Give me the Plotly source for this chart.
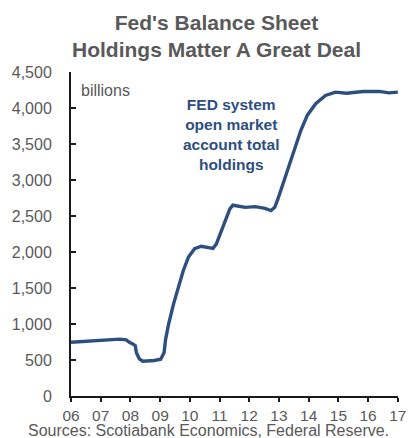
import plotly.graph_objects as go

# Fed System Open Market Account total holdings, USD billions
dates = ["2006-01-01", "2006-04-15", "2006-08-01", "2006-12-05", "2007-03-15",
         "2007-06-05", "2007-08-25", "2007-11-10", "2007-12-20", "2008-02-05",
         "2008-03-01", "2008-03-15", "2008-04-20", "2008-06-01", "2008-08-05",
         "2008-10-20", "2009-01-08", "2009-02-18", "2009-03-08", "2009-04-15",
         "2009-06-15", "2009-08-15", "2009-10-12", "2009-12-15", "2010-03-01",
         "2010-05-22", "2010-08-08", "2010-10-12", "2010-11-22", "2011-01-18",
         "2011-03-14", "2011-05-08", "2011-06-14", "2011-08-25", "2011-11-15",
         "2012-03-14", "2012-07-13", "2012-09-24", "2012-11-10", "2012-12-20",
         "2013-02-20", "2013-04-20", "2013-07-08", "2013-09-27", "2013-12-16",
         "2014-03-28", "2014-07-27", "2014-11-25", "2015-04-12", "2015-10-30",
         "2016-05-18", "2016-09-16", "2017-01-01"]
holdings = [747, 755, 762, 771, 785,
            795, 790, 780, 745, 720,
            700, 600, 517, 483, 485,
            493, 510, 600, 780, 1000,
            1280, 1510, 1740, 1930, 2045,
            2080, 2060, 2050, 2110, 2275,
            2440, 2600, 2650, 2640, 2620,
            2630, 2605, 2575, 2620, 2740,
            2950, 3180, 3430, 3690, 3900,
            4060, 4175, 4220, 4205, 4230,
            4230, 4210, 4220]

year_ticks = [f"{y}-01-01" for y in range(2006, 2018)]
year_labels = [f"{y % 100:02d}" for y in range(2006, 2018)]
y_ticks = list(range(0, 4501, 500))
y_labels = [f"{v:,}" for v in y_ticks]

LINE = "#2D4F7F"
GREY = "#595959"
FONT = "Liberation Sans, Arial, sans-serif"

fig = go.Figure(go.Scatter(
    x=dates, y=holdings, mode="lines",
    line=dict(color=LINE, width=3.4),
    hoverinfo="skip",
))

fig.update_layout(
    width=414, height=438,
    margin=dict(l=71, r=8, t=72, b=42),
    paper_bgcolor="white", plot_bgcolor="white",
    showlegend=False,
    font=dict(family=FONT, color=GREY, size=15),
    xaxis=dict(
        type="date", range=["2006-01-01", "2017-01-03"],
        tickvals=year_ticks, ticktext=year_labels,
        showgrid=False, zeroline=False,
        showline=True, linecolor="#1a1a1a", linewidth=2,
        ticks="outside", ticklen=4, tickwidth=1.5, tickcolor="#1a1a1a",
        tickfont=dict(size=15.5, color=GREY, family=FONT),
        ticklabeloverflow="allow",
    ),
    yaxis=dict(
        range=[0, 4500],
        tickvals=y_ticks, ticktext=y_labels,
        showgrid=False, zeroline=False,
        showline=True, linecolor="#1a1a1a", linewidth=2,
        ticks="inside", ticklen=5, tickwidth=1.5, tickcolor="#1a1a1a",
        tickfont=dict(size=16, color=GREY, family=FONT),
        ticklabelstandoff=14,
    ),
    annotations=[
        dict(text="<b>Fed's Balance Sheet<br>Holdings Matter A Great Deal</b>",
             xref="paper", yref="paper", x=0.445, y=1.0, yshift=36,
             xanchor="center", yanchor="middle", showarrow=False,
             font=dict(size=21, color=GREY, family=FONT)),
        dict(text="billions", xref="paper", yref="paper",
             x=0.0, y=0.943, xshift=8, xanchor="left", yanchor="middle",
             showarrow=False, font=dict(size=16, color=GREY, family=FONT)),
        dict(text="<b>FED system<br>open market<br>account total<br>holdings</b>",
             xref="paper", yref="paper", x=0.488, y=0.806,
             xanchor="center", yanchor="middle", showarrow=False,
             font=dict(size=15.5, color=LINE, family=FONT)),
        dict(text="Sources: Scotiabank Economics, Federal Reserve.",
             xref="paper", yref="paper", x=0.419, y=0, yshift=-34,
             xanchor="center", yanchor="middle", showarrow=False,
             font=dict(size=16, color=GREY, family=FONT)),
    ],
)

fig.write_html("out.html")
